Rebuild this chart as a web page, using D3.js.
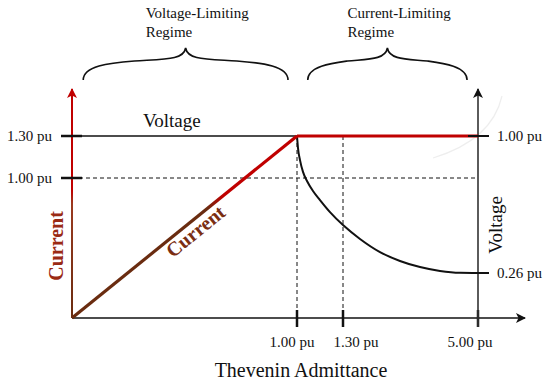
<!DOCTYPE html>
<html>
<head>
<meta charset="utf-8">
<script src="https://cdn.jsdelivr.net/npm/d3@7"></script>
<style>
  body { margin: 0; background: #fff; }
  svg { font-family: "Liberation Serif", "Times New Roman", serif; }
</style>
</head>
<body>
<div id="chart"></div>
<script>
// admittance ticks (pu) and their labels
const xTicks = [1.0, 1.3, 5.0];
const xTickLabels = ["1.00 pu", "1.30 pu", "5.00 pu"];
// left axis (current) ticks
const currentTicks = [1.3, 1.0];
const currentTickLabels = ["1.30 pu", "1.00 pu"];
// right axis (voltage) ticks
const voltageTicks = [1.0, 0.26];
const voltageTickLabels = ["1.00 pu", "0.26 pu"];

// current vs admittance: rises linearly then limited
const currentAdm = [0, 1.0, 5.0];
const currentVal = [0, 1.3, 1.3];
// voltage vs admittance in the current-limiting regime
const voltAdm = [1.0, 1.0065, 1.0196, 1.0391, 1.0652, 1.1043, 1.15, 1.2152, 1.3, 1.766, 2.314, 2.862, 3.41, 3.959, 4.507, 5.0];
const voltVal = [1.0, 0.935, 0.870, 0.806, 0.757, 0.703, 0.654, 0.589, 0.519, 0.444, 0.373, 0.325, 0.292, 0.271, 0.261, 0.26];

const regimes = [
  { lines: ["Voltage-Limiting", "Regime"], from: 0.05, to: 0.96 },
  { lines: ["Current-Limiting", "Regime"], from: 1.07, to: 4.7 }
];

const W = 550, H = 385;
const RED = "#c00000", BROWN = "#6a2c10";

const svg = d3.select("#chart").append("svg").attr("width", W).attr("height", H);

// piecewise x scale (schematic, non-linear axis)
const x = d3.scaleLinear().domain([0, 1.0, 1.3, 5.0]).range([72, 297, 343, 478]);
const yI = d3.scaleLinear().domain([0, 1.3]).range([318, 136]);
const yV = d3.scaleLinear().domain([0.26, 1.0]).range([273, 136]);

const x0 = x(0), y0 = yI(0);
const xLabelShift = [-5, 13, -8];

const defs = svg.append("defs");
function arrowMarker(id, color) {
  defs.append("marker").attr("id", id)
    .attr("viewBox", "0 0 10 10").attr("refX", 9).attr("refY", 5)
    .attr("markerWidth", 10).attr("markerHeight", 10).attr("markerUnits", "userSpaceOnUse")
    .attr("orient", "auto")
    .append("path").attr("d", "M0,0 L10,5 L0,10 L2.5,5 Z").attr("fill", color);
}
arrowMarker("arrRed", RED);
arrowMarker("arrBlack", "#111");

const gAxis = defs.append("linearGradient").attr("id", "gAxis")
  .attr("gradientUnits", "userSpaceOnUse").attr("x1", 0).attr("y1", y0).attr("x2", 0).attr("y2", 90);
gAxis.append("stop").attr("offset", 0).attr("stop-color", BROWN);
gAxis.append("stop").attr("offset", 0.5).attr("stop-color", "#9a3a20");
gAxis.append("stop").attr("offset", 0.56).attr("stop-color", RED);
gAxis.append("stop").attr("offset", 1).attr("stop-color", RED);

const gLine = defs.append("linearGradient").attr("id", "gLine")
  .attr("gradientUnits", "userSpaceOnUse").attr("x1", x0).attr("y1", y0).attr("x2", x(1)).attr("y2", yI(1.3));
gLine.append("stop").attr("offset", 0).attr("stop-color", BROWN);
gLine.append("stop").attr("offset", 0.6).attr("stop-color", BROWN);
gLine.append("stop").attr("offset", 0.67).attr("stop-color", RED);
gLine.append("stop").attr("offset", 1).attr("stop-color", RED);

// faint scan artefact arc near the right axis
svg.append("path").attr("d", "M433,158 Q492,140 502,96")
  .attr("fill", "none").attr("stroke", "#eeeeee").attr("stroke-width", 1.2);

// dashed guides
svg.append("line").attr("x1", x0).attr("x2", x(5)).attr("y1", yI(1.0)).attr("y2", yI(1.0))
  .attr("stroke", "#111").attr("stroke-width", 1).attr("stroke-dasharray", "4,3");
xTicks.slice(0, 2).forEach(t => {
  svg.append("line").attr("x1", x(t)).attr("x2", x(t)).attr("y1", yI(1.3)).attr("y2", y0)
    .attr("stroke", "#111").attr("stroke-width", 1).attr("stroke-dasharray", "4,3");
});

// top black line (voltage-limiting level)
svg.append("line").attr("x1", x0).attr("x2", x(1)).attr("y1", yI(1.3)).attr("y2", yI(1.3))
  .attr("stroke", "#111").attr("stroke-width", 1.6);

// x axis
svg.append("line").attr("x1", x0).attr("x2", 525).attr("y1", y0).attr("y2", y0)
  .attr("stroke", "#111").attr("stroke-width", 1.6).attr("marker-end", "url(#arrBlack)");
xTicks.forEach((t, i) => {
  svg.append("line").attr("x1", x(t)).attr("x2", x(t)).attr("y1", y0 - 8).attr("y2", y0 + 9)
    .attr("stroke", "#111").attr("stroke-width", 2.5);
  svg.append("text").attr("x", x(t) + xLabelShift[i]).attr("y", 347).attr("text-anchor", "middle")
    .attr("font-size", 15).attr("fill", "#111").text(xTickLabels[i]);
});
svg.append("text").attr("x", 301).attr("y", 377).attr("text-anchor", "middle")
  .attr("font-size", 20).attr("fill", "#111").text("Thevenin Admittance");

// right voltage axis
svg.append("line").attr("x1", x(5)).attr("x2", x(5)).attr("y1", y0 + 9).attr("y2", 89)
  .attr("stroke", "#333").attr("stroke-width", 1.6).attr("marker-end", "url(#arrBlack)");
voltageTicks.forEach((t, i) => {
  const xs = i === 0 ? x(5) - 10 : x(5);
  svg.append("line").attr("x1", xs).attr("x2", x(5) + 11).attr("y1", yV(t)).attr("y2", yV(t))
    .attr("stroke", "#111").attr("stroke-width", 2);
  svg.append("text").attr("x", x(5) + 19).attr("y", yV(t) + 5)
    .attr("font-size", 15).attr("fill", "#111").text(voltageTickLabels[i]);
});
svg.append("text").attr("transform", `translate(${x(5) + 24},225) rotate(-90)`)
  .attr("text-anchor", "middle").attr("font-size", 19).attr("fill", "#111").text("Voltage");

// voltage curve
const vLine = d3.line().x(d => x(d[0])).y(d => yV(d[1])).curve(d3.curveMonotoneX);
svg.append("path").datum(voltAdm.map((a, i) => [a, voltVal[i]]))
  .attr("d", vLine).attr("fill", "none").attr("stroke", "#111").attr("stroke-width", 2);

// current curve
const cPts = currentAdm.map((a, i) => [x(a), yI(currentVal[i])]);
svg.append("path").attr("d", d3.line()(cPts.slice(0, 2)))
  .attr("fill", "none").attr("stroke", "url(#gLine)").attr("stroke-width", 3.2);
svg.append("path").attr("d", d3.line()(cPts.slice(1)))
  .attr("fill", "none").attr("stroke", RED).attr("stroke-width", 3.2);

// left current axis
svg.append("line").attr("x1", x0).attr("x2", x0).attr("y1", y0).attr("y2", 89)
  .attr("stroke", "url(#gAxis)").attr("stroke-width", 2).attr("marker-end", "url(#arrRed)");
currentTicks.forEach((t, i) => {
  svg.append("line").attr("x1", x0 - 11).attr("x2", x0 + 10).attr("y1", yI(t)).attr("y2", yI(t))
    .attr("stroke", "#111").attr("stroke-width", 2.5);
  svg.append("text").attr("x", 52).attr("y", yI(t) + 5).attr("text-anchor", "end")
    .attr("font-size", 15).attr("fill", "#111").text(currentTickLabels[i]);
});

// right tick over the red line
svg.append("line").attr("x1", x(5) - 10).attr("x2", x(5) + 11).attr("y1", yV(1)).attr("y2", yV(1))
  .attr("stroke", "#111").attr("stroke-width", 2);

// labels
svg.append("text").attr("x", 143).attr("y", 127).attr("font-size", 19).attr("fill", "#111").text("Voltage");

svg.append("text").attr("transform", "translate(63,246) rotate(-90)")
  .attr("text-anchor", "middle").attr("font-size", 20).attr("font-weight", "bold")
  .attr("fill", "#9a2a14").text("Current");

const ang = Math.atan2(yI(1.3) - y0, x(1) - x0) * 180 / Math.PI;
const aLab = 0.52;
svg.append("text").attr("transform", `translate(${x(aLab)},${yI(aLab * 1.3)}) rotate(${ang})`)
  .attr("x", 0).attr("y", 17)
  .attr("text-anchor", "middle").attr("font-size", 20).attr("font-weight", "bold")
  .attr("fill", "#7a2e12").text("Current");

// regime braces and titles
function brace(xa, xb, yb, yt) {
  const xm = (xa + xb) / 2, ya = yb - 19;
  return `M${xa},${yb} C${xa},${yb - 14} ${xa + 25},${ya + 2} ${(xa + xm) / 2},${ya}`
    + ` C${xm - 20},${ya - 2} ${xm - 2},${ya - 1} ${xm},${yt}`
    + ` C${xm + 2},${ya - 1} ${xm + 20},${ya - 2} ${(xm + xb) / 2},${ya}`
    + ` C${xb - 25},${ya + 2} ${xb},${yb - 14} ${xb},${yb}`;
}
regimes.forEach(r => {
  const xa = x(r.from), xb = x(r.to);
  svg.append("path").attr("d", brace(xa, xb, 80, 48))
    .attr("fill", "none").attr("stroke", "#111").attr("stroke-width", 1.6);
  const xm = (xa + xb) / 2;
  r.lines.forEach((t, j) => {
    svg.append("text").attr("x", xm - 40).attr("y", 18 + j * 19)
      .attr("font-size", 15).attr("fill", "#111").text(t);
  });
});
</script>
</body>
</html>
